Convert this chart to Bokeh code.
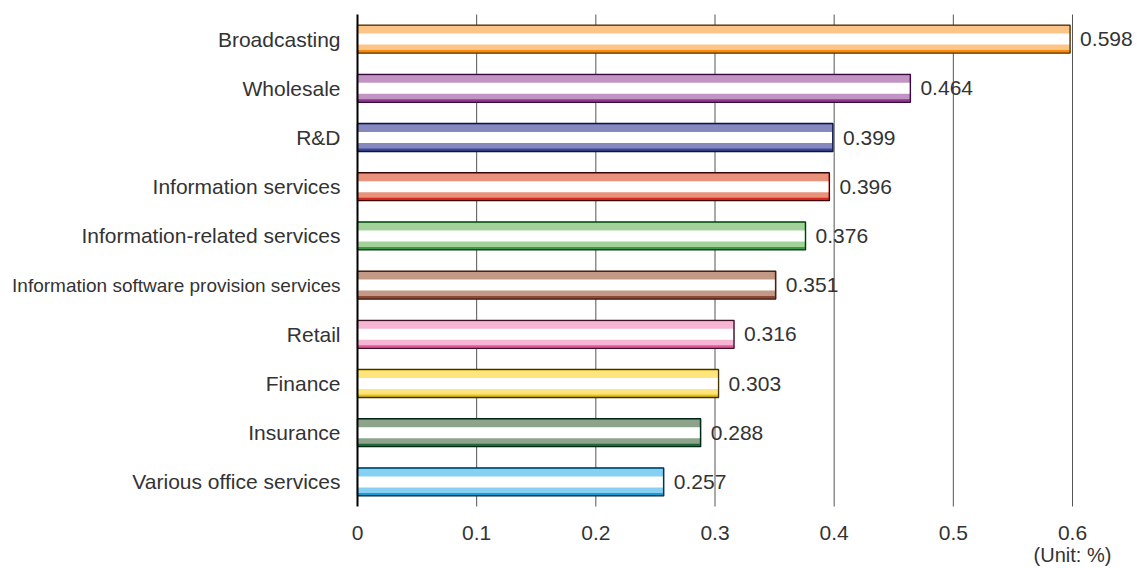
from bokeh.plotting import figure
from bokeh.models import Range1d, ColumnDataSource
from bokeh.core.properties import value
from bokeh.embed import file_html
from bokeh.resources import INLINE

categories = ["Broadcasting", "Wholesale", "R&D", "Information services",
              "Information-related services", "Information software provision services",
              "Retail", "Finance", "Insurance", "Various office services"]
values = [0.598, 0.464, 0.399, 0.396, 0.376, 0.351, 0.316, 0.303, 0.288, 0.257]
value_labels = ["0.598", "0.464", "0.399", "0.396", "0.376", "0.351", "0.316", "0.303", "0.288", "0.257"]
tick_values = [0, 0.1, 0.2, 0.3, 0.4, 0.5, 0.6]
tick_labels = ["0", "0.1", "0.2", "0.3", "0.4", "0.5", "0.6"]
unit_text = "(Unit: %)"

light_colors = ["#FDC487", "#C294C4", "#8789BE", "#E8917B", "#A2D29A",
                "#C39885", "#F6B6D3", "#FFE57C", "#8EA38C", "#88D0F2"]
accent_colors = ["#F98A0E", "#8B3A8F", "#3A4899", "#D7261E", "#3C9A46",
                 "#8A4A38", "#E4579D", "#E9C21A", "#1C6A3C", "#1A9BD8"]
border_colors = ["#4A2E05", "#3A0A3E", "#0D1640", "#3B0505", "#0B3512",
                 "#3A150A", "#401027", "#3D3200", "#002512", "#00263D"]

W, H = 1137, 568
zero_px, six_px = 357, 1072        # pixel columns of 0 and 0.6
top_px, bottom_px = 14, 506        # top / bottom of the category band
n = len(categories)
ppx = (six_px - zero_px) / 0.6     # pixels per x unit
ppy = (bottom_px - top_px) / n     # pixels per category

x_start = -zero_px / ppx
x_end = (W - zero_px) / ppx
y_end = (n - 0.5) + top_px / ppy
y_start = (n - 0.5) - (H - top_px) / ppy

p = figure(width=W, height=H, output_backend="svg", toolbar_location=None,
           x_range=Range1d(x_start, x_end), y_range=Range1d(y_start, y_end),
           min_border_left=0, min_border_right=0, min_border_top=0, min_border_bottom=0)
p.axis.visible = False
p.grid.visible = False
p.outline_line_color = None
p.background_fill_color = "white"

ys = [n - 1 - i for i in range(n)]
y_lo, y_hi = -0.5, n - 0.5

# vertical gridlines
grid_x = tick_values[1:]
p.segment(x0=grid_x, y0=[y_lo] * len(grid_x), x1=grid_x, y1=[y_hi] * len(grid_x),
          line_color="#555555", line_width=1)

# bars
h_outer = 28 / ppy
h_light = 24 / ppy
h_white = 11 / ppy
shift_light = 1 / ppy
eps = 1 / ppx

src = ColumnDataSource(dict(y=ys, v=values, lab=value_labels, cat=categories,
                            fs=["19px" if len(c) > 30 else "21px" for c in categories],
                            light=light_colors, accent=accent_colors, border=border_colors,
                            yl=[y + shift_light for y in ys], vi=[v - eps for v in values]))

p.hbar(y="y", left=0, right="v", height=h_outer, fill_color="accent",
       line_color="border", line_width=1.3, source=src)
p.hbar(y="yl", left=0, right="vi", height=h_light, fill_color="light",
       line_color=None, source=src)
p.hbar(y="y", left=0, right="vi", height=h_white, fill_color="white",
       line_color=None, source=src)

# left axis line
p.segment(x0=[0], y0=[y_lo], x1=[0], y1=[y_hi], line_color="black", line_width=2)

# value labels
p.text(x="v", y="y", text="lab", source=src, x_offset=10,
       text_baseline="middle", text_align="left",
       text_font=value("Liberation Sans"), text_font_size=value("21px"),
       text_color="#333333")

# category labels
p.text(x=0, y="y", text="cat", source=src, x_offset=-17,
       text_baseline="middle", text_align="right",
       text_font=value("Liberation Sans"), text_font_size="fs",
       text_color="#333333")

# x tick labels
p.text(x=tick_values, y=[y_lo - 26 / ppy] * len(tick_values), text=tick_labels,
       text_baseline="middle", text_align="center",
       text_font=value("Liberation Sans"), text_font_size=value("21px"),
       text_color="#333333")

# unit label
p.text(x=[tick_values[-1]], y=[y_lo - 48 / ppy], text=[unit_text],
       text_baseline="middle", text_align="center",
       text_font=value("Liberation Sans"), text_font_size=value("20px"),
       text_color="#333333")

open("out.html", "w").write(file_html(p, INLINE))
